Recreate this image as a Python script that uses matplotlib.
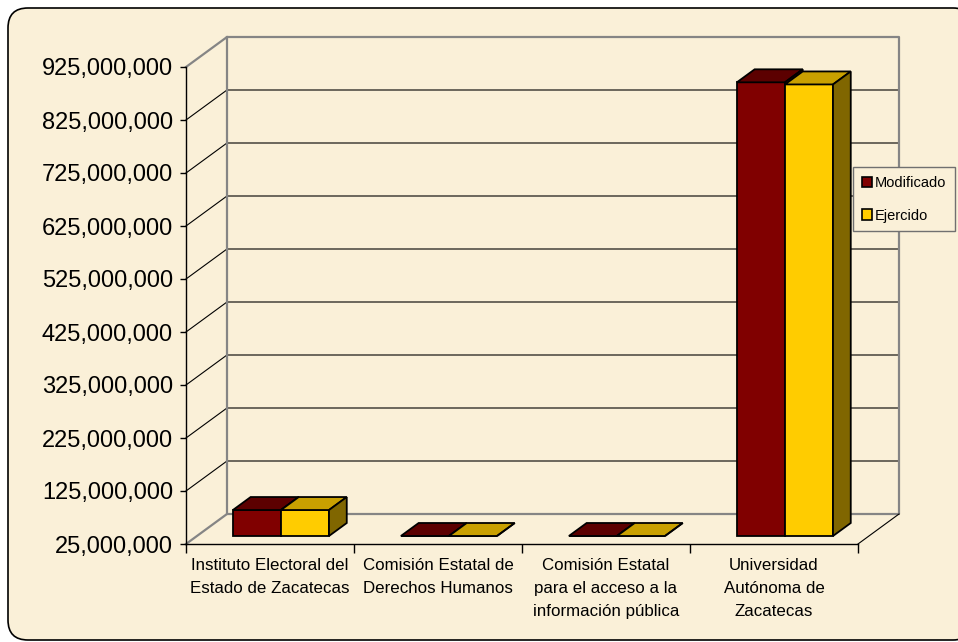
import numpy as np
import matplotlib
matplotlib.use("Agg")
import matplotlib.pyplot as plt
from matplotlib.patches import Polygon, FancyBboxPatch, Patch
from matplotlib.lines import Line2D
from matplotlib.transforms import IdentityTransform

plt.rcParams['font.family'] = ['Liberation Sans', 'DejaVu Sans']

# ---- data ----
categories = ["Instituto Electoral del\nEstado de Zacatecas",
              "Comisión Estatal de\nDerechos Humanos",
              "Comisión Estatal\npara el acceso a la\ninformación pública",
              "Universidad\nAutónoma de\nZacatecas"]
series_names = ["Modificado", "Ejercido"]
modificado = [74_000_000, 14_000_000, 8_000_000, 881_000_000]
ejercido = [74_000_000, 13_500_000, 7_500_000, 877_000_000]
y_ticks = [25_000_000, 125_000_000, 225_000_000, 325_000_000, 425_000_000,
           525_000_000, 625_000_000, 725_000_000, 825_000_000, 925_000_000]

# ---- style ----
BG = '#FAF0D8'
front_cols = ['#800000', '#FFCC00']
top_cols = ['#5C0000', '#C9A000']
side_cols = ['#5C0000', '#806600']
GRAY = '#858585'

W, H = 958, 642
fig = plt.figure(figsize=(W / 100, H / 100), dpi=100)
fig.patch.set_facecolor('white')

# rounded parchment panel (pixel coords, origin bottom-left)
panel = FancyBboxPatch((8, 2), 965, 632, boxstyle="round,pad=0,rounding_size=20",
                       transform=IdentityTransform(), facecolor=BG,
                       edgecolor='black', linewidth=1.2, zorder=0)
fig.add_artist(panel)

ax = fig.add_axes([186 / W, (H - 544) / H, 672 / W, 477 / H])
ax.patch.set_visible(False)
ymin, ymax = y_ticks[0], y_ticks[-1]
ax.set_xlim(-0.5, len(categories) - 0.5)
ax.set_ylim(ymin, ymax)
for s in ['top', 'right']:
    ax.spines[s].set_visible(False)
for s in ['left', 'bottom']:
    ax.spines[s].set_color('black')
    ax.spines[s].set_linewidth(1.0)

ax.set_yticks(y_ticks)
ax.set_yticklabels([f"{v:,.0f}" for v in y_ticks], fontsize=17)
ax.tick_params(axis='y', length=4.3, width=1.0, pad=5)
ax.set_xticks(np.arange(-0.5, len(categories), 1.0))
ax.set_xticklabels([])
ax.tick_params(axis='x', which='major', length=6.5, width=1.0, direction='out')
ax.set_xticks(np.arange(len(categories)), minor=True)
ax.set_xticklabels(categories, minor=True, fontsize=12.2, linespacing=1.68)
ax.tick_params(axis='x', which='minor', length=0, pad=10)

DX, DY = 41, 30  # full depth offset in pixels


def proj(x, y, d):
    p = ax.transData.transform((x, y)) + np.array([DX * d, DY * d])
    return ax.transData.inverted().transform(p)


def line3d(pts, color, lw, z=1):
    arr = np.array([proj(*p) for p in pts])
    ax.add_line(Line2D(arr[:, 0], arr[:, 1], color=color, linewidth=lw,
                       clip_on=False, zorder=z))


xl, xr = -0.5, len(categories) - 0.5
# back wall & left wall gridlines
for v in y_ticks[1:-1]:
    line3d([(xl, v, 0), (xl, v, 1), (xr, v, 1)], 'black', 0.8)
# borders
line3d([(xl, ymax, 0), (xl, ymax, 1), (xr, ymax, 1), (xr, ymin, 1), (xl, ymin, 1),
        (xl, ymax, 1)], GRAY, 1.6)
line3d([(xl, ymin, 0), (xl, ymin, 1)], GRAY, 1.6)
line3d([(xr, ymin, 0), (xr, ymin, 1)], 'black', 0.8)

# bars
BW = 0.286
d0, d1 = 0.267, 0.70
for i in range(len(categories)):
    for s, vals in enumerate([modificado, ejercido]):
        x0 = i - BW + s * BW
        x1 = x0 + BW
        top = max(vals[i], ymin)
        base = ymin
        faces = [
            ([(x0, base, d0), (x1, base, d0), (x1, top, d0), (x0, top, d0)], front_cols[s]),
            ([(x0, top, d0), (x1, top, d0), (x1, top, d1), (x0, top, d1)], top_cols[s]),
            ([(x1, base, d0), (x1, top, d0), (x1, top, d1), (x1, base, d1)], side_cols[s]),
        ]
        for pts, col in faces:
            arr = np.array([proj(*p) for p in pts])
            ax.add_patch(Polygon(arr, closed=True, facecolor=col, edgecolor='black',
                                 linewidth=1.3, joinstyle='miter', clip_on=False,
                                 zorder=3 + s))

handles = [Patch(facecolor=front_cols[0], edgecolor='black', linewidth=1.2),
           Patch(facecolor=front_cols[1], edgecolor='black', linewidth=1.2)]
leg = fig.legend(handles, series_names, loc='upper left',
                 bbox_to_anchor=(853 / W, (H - 167) / H), fontsize=10.5,
                 frameon=True, fancybox=False, framealpha=1, facecolor=BG,
                 edgecolor='#707070', handlelength=0.7, handleheight=0.7,
                 handletextpad=0.2, labelspacing=1.3, borderpad=0.6,
                 borderaxespad=0)
leg.get_frame().set_linewidth(1.0)

fig.savefig('out.png', dpi=100, facecolor=fig.get_facecolor())
